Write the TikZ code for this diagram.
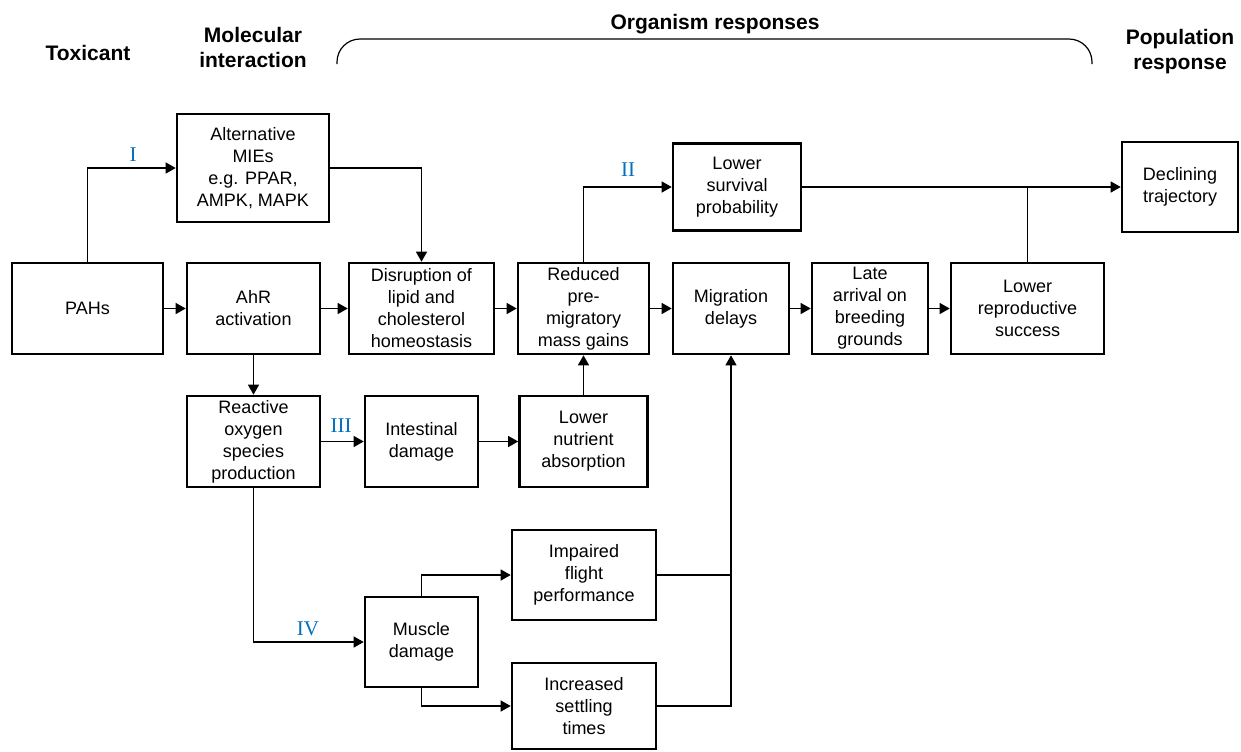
\documentclass[tikz,border=0pt]{standalone}
\usepackage{fontspec}
\setmainfont{Liberation Sans}
\newfontfamily\numfont{Liberation Serif}
\usetikzlibrary{arrows.meta}
\definecolor{routeblue}{RGB}{0,112,192}
\newcommand*{\stagebox}[5][45.5pt]{%
  \node [stage, minimum width=#4, minimum height=#1] (#2) at (#3) {#5};
}
\newcommand*{\route}[3]{%
  \node [routeno] (#1) at (#2) {#3};
}
\begin{document}
\begin{tikzpicture}[x=0.5pt, y=-0.5pt,
  stage/.style  = {draw, line width=1.3pt, inner sep=1pt, align=center, font=\fontsize{9}{11}\selectfont},
  header/.style = {align=center, font=\fontsize{10.5}{12.5}\selectfont\bfseries},
  routeno/.style = {text=routeblue, font=\numfont\fontsize{10.5}{12}\selectfont, inner sep=0pt},
  wire/.style   = {line width=0.6pt},
  link/.style   = {wire, -{Triangle[length=5pt,width=5.5pt]}},
  ]
  \useasboundingbox (0,0) rectangle (1241,751);
  % headers
  \node [header] (toxicantH) at (88,52.5) {Toxicant};
  \node [header] (moleculeH) at (253,47.5) {Molecular\\interaction};
  \node [header] (organismH) at (715,24) {Organism responses};
  \node [header] (populationH) at (1180,51.5) {Population\\response};
  \draw [wire, rounded corners=11.5pt] (337,64) |- (715,39) -| (1092,64);
  % boxes
  \stagebox[54pt]{miesN}{253,168}{76pt}{Alternative\\MIEs\\e.g. PPAR,\\AMPK, MAPK}
  \stagebox{pahsN}{87.5,308.5}{75.5pt}{PAHs}
  \stagebox{ahrN}{253.5,308.5}{66.5pt}{AhR\\activation}
  \stagebox{lipidN}{421.5,308.5}{72.5pt}{Disruption of\\lipid and\\cholesterol\\homeostasis}
  \stagebox{massN}{583.5,308.5}{65.5pt}{Reduced\\pre-\\migratory\\mass gains}
  \stagebox[43.5pt]{survivalN}{737,187}{64pt}{Lower\\survival\\probability}
  \stagebox{delayN}{731,308.5}{58pt}{Migration\\delays}
  \stagebox{arrivalN}{870,308.5}{58pt}{Late\\arrival on\\breeding\\grounds}
  \stagebox{reproN}{1027.5,308.5}{76.5pt}{Lower\\reproductive\\success}
  \stagebox[45pt]{declineN}{1180,187}{58pt}{Declining\\trajectory}
  \stagebox{rosN}{253.5,441.5}{66.5pt}{Reactive\\oxygen\\species\\production}
  \stagebox{gutN}{421.5,441.5}{56.5pt}{Intestinal\\damage}
  \stagebox{nutrientN}{583.5,441.5}{64pt}{Lower\\nutrient\\absorption}
  \stagebox[45pt]{flightN}{584,575}{72pt}{Impaired\\flight\\performance}
  \stagebox[45pt]{muscleN}{421.5,642}{56.5pt}{Muscle\\damage}
  \stagebox[43pt]{settleN}{584,706}{72pt}{Increased\\settling\\times}
  % pathway numbers
  \route{routeI}{133,154.5}{I}
  \route{routeII}{628,170}{II}
  \route{routeIII}{341,426}{III}
  \route{routeIV}{308,629}{IV}
  % connectors
  \draw [link] (pahsN.north) |- (miesN.west);
  \draw [link] (pahsN.east) -- (ahrN.west);
  \draw [link] (ahrN.east) -- (lipidN.west);
  \draw [link] (miesN.east) -| (lipidN.north);
  \draw [link] (lipidN.east) -- (massN.west);
  \draw [link] (massN.north) |- (survivalN.west);
  \draw [link] (massN.east) -- (delayN.west);
  \draw [link] (delayN.east) -- (arrivalN.west);
  \draw [link] (arrivalN.east) -- (reproN.west);
  \draw [link] (survivalN.east) -- (declineN.west);
  \draw [wire] (reproN.north) -- (reproN.north |- survivalN.east);
  \draw [link] (ahrN.south) -- (rosN.north);
  \draw [link] (rosN.east) -- (gutN.west);
  \draw [link] (gutN.east) -- (nutrientN.west);
  \draw [link] (nutrientN.north) -- (massN.south);
  \draw [link] (rosN.south) |- (muscleN.west);
  \draw [link] (muscleN.north) |- (flightN.west);
  \draw [link] (muscleN.south) |- (settleN.west);
  \draw [wire] (flightN.east) -- (flightN.east -| delayN.south);
  \draw [link] (settleN.east) -| (delayN.south);
\end{tikzpicture}
\end{document}
